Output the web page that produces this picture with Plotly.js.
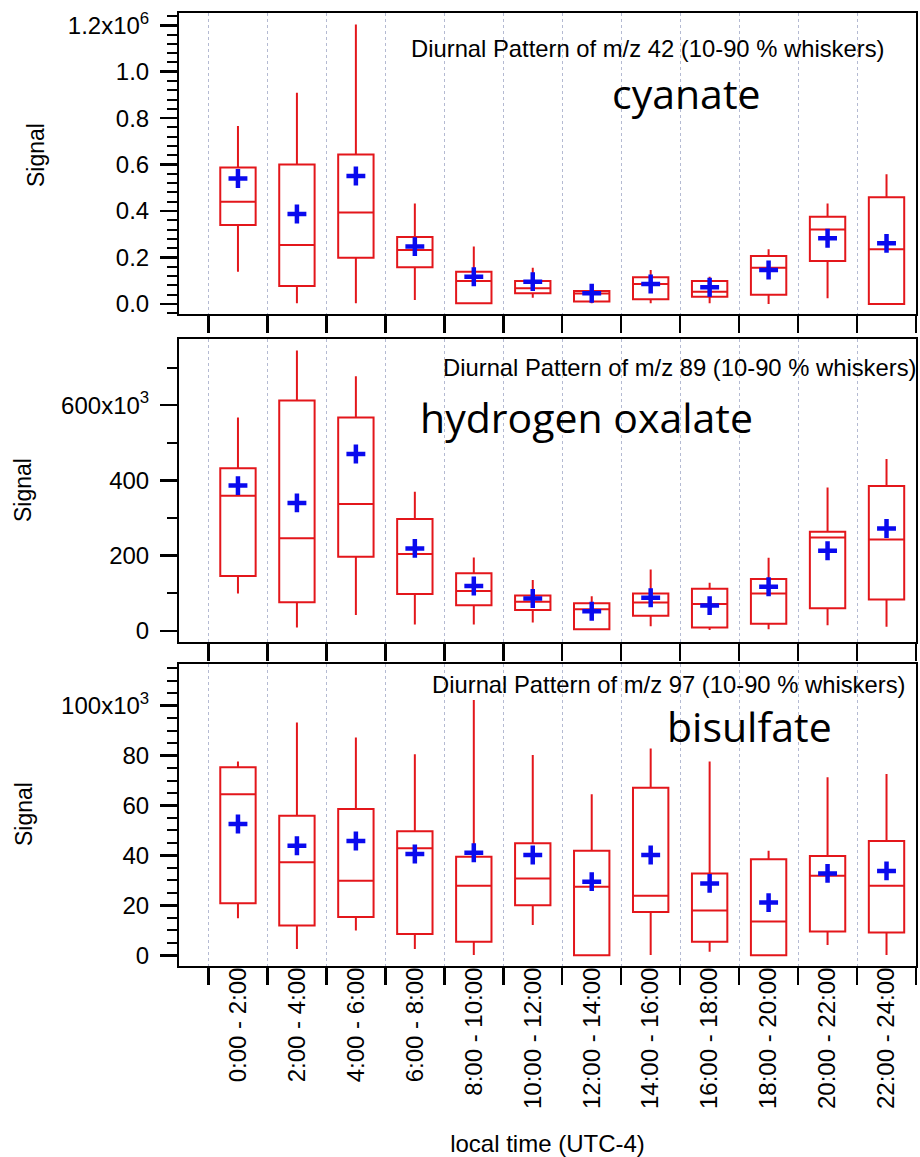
<!DOCTYPE html>
<html>
<head>
<meta charset="utf-8">
<script src="https://cdn.plot.ly/plotly-3.0.1.min.js"></script>
<style>
  html, body { margin: 0; padding: 0; background: #ffffff; }
  #chart { width: 920px; height: 1157px; }
</style>
</head>
<body>
<div id="chart"></div>
<script>
// ---------- categories / tick labels ----------
const categories = ['0:00 - 2:00', '2:00 - 4:00', '4:00 - 6:00', '6:00 - 8:00',
  '8:00 - 10:00', '10:00 - 12:00', '12:00 - 14:00', '14:00 - 16:00',
  '16:00 - 18:00', '18:00 - 20:00', '20:00 - 22:00', '22:00 - 24:00'];

// ---------- m/z 42 cyanate ----------
const cyanateUpper  = [766e3, 909e3, 1204e3, 433e3, 247e3, 156e3, 82e3, 146e3, 117e3, 235e3, 433e3, 559e3];
const cyanateQ3     = [588e3, 601e3, 644e3, 288e3, 139e3, 99e3, 56e3, 115e3, 99e3, 206e3, 376e3, 459e3];
const cyanateMedian = [440e3, 254e3, 394e3, 232e3, 99e3, 68e3, 45e3, 86e3, 53e3, 156e3, 321e3, 235e3];
const cyanateQ1     = [340e3, 77e3, 199e3, 158e3, 3e3, 46e3, 10e3, 20e3, 31e3, 40e3, 185e3, 0];
const cyanateLower  = [139e3, 3e3, 3e3, 17e3, 0, 27e3, 3e3, 3e3, 3e3, 0, 25e3, 0];
const cyanateMean   = [540e3, 387e3, 551e3, 247e3, 117e3, 96e3, 46e3, 86e3, 72e3, 146e3, 283e3, 261e3];
const cyanateTickVals = [0, 0.2e6, 0.4e6, 0.6e6, 0.8e6, 1.0e6, 1.2e6];
const cyanateTickText = ['0.0', '0.2', '0.4', '0.6', '0.8', '1.0', '1.2x10<sup>6</sup>'];

// ---------- m/z 89 hydrogen oxalate ----------
const oxalateUpper  = [567e3, 745e3, 677e3, 370e3, 195e3, 135e3, 92e3, 163e3, 128e3, 194e3, 381e3, 457e3];
const oxalateQ3     = [432e3, 612e3, 567e3, 297e3, 153e3, 94e3, 73e3, 99e3, 112e3, 138e3, 263e3, 385e3];
const oxalateMedian = [359e3, 246e3, 337e3, 204e3, 106e3, 77e3, 57e3, 75e3, 71e3, 99e3, 248e3, 243e3];
const oxalateQ1     = [146e3, 76e3, 197e3, 98e3, 68e3, 55e3, 4e3, 40e3, 9e3, 19e3, 60e3, 83e3];
const oxalateLower  = [99e3, 9e3, 42e3, 17e3, 17e3, 22e3, 2e3, 12e3, 2e3, 4e3, 15e3, 11e3];
const oxalateMean   = [386e3, 340e3, 470e3, 219e3, 119e3, 86e3, 52e3, 88e3, 67e3, 117e3, 213e3, 272e3];
const oxalateTickVals = [0, 200e3, 400e3, 600e3];
const oxalateTickText = ['0', '200', '400', '600x10<sup>3</sup>'];

// ---------- m/z 97 bisulfate ----------
const bisulfateUpper  = [77.6e3, 93.3e3, 87.3e3, 80.5e3, 102.3e3, 80.2e3, 64.5e3, 82.9e3, 77.6e3, 41.9e3, 71.3e3, 72.6e3];
const bisulfateQ3     = [75.3e3, 55.9e3, 58.6e3, 49.7e3, 39.5e3, 44.9e3, 41.9e3, 67.1e3, 32.8e3, 38.5e3, 39.8e3, 45.8e3];
const bisulfateMedian = [64.5e3, 37.3e3, 29.9e3, 42.9e3, 27.9e3, 30.8e3, 27.5e3, 23.8e3, 17.9e3, 13.5e3, 31.9e3, 27.9e3];
const bisulfateQ1     = [20.8e3, 11.9e3, 15.3e3, 8.5e3, 5.4e3, 20.0e3, 0, 17.3e3, 5.4e3, 0, 9.5e3, 9.1e3];
const bisulfateLower  = [14.8e3, 2.5e3, 9.9e3, 2.5e3, 0.1e3, 12.1e3, 0, 0.1e3, 1.4e3, 0, 4.1e3, 0.1e3];
const bisulfateMean   = [52.6e3, 43.9e3, 45.8e3, 40.6e3, 41.1e3, 40.2e3, 29.5e3, 40.2e3, 28.8e3, 21.1e3, 32.8e3, 33.8e3];
const bisulfateTickVals = [0, 20e3, 40e3, 60e3, 80e3, 100e3];
const bisulfateTickText = ['0', '20', '40', '60', '80', '100x10<sup>3</sup>'];

// ---------- text ----------
const panelTitles = ['Diurnal Pattern of m/z 42 (10-90 % whiskers)',
                     'Diurnal Pattern of m/z 89 (10-90 % whiskers)',
                     'Diurnal Pattern of m/z 97 (10-90 % whiskers)'];
const compoundNames = ['cyanate', 'hydrogen oxalate', 'bisulfate'];

// ---------- style ----------
const RED = '#e3161b';
const BLUE = '#0a0aee';
const LABEL_FONT = 'Liberation Sans, Arial, sans-serif';

function boxTrace(ax, q1, med, q3, lo, hi) {
  return {
    type: 'box', xaxis: 'x' + ax, yaxis: 'y' + ax,
    x: categories, q1: q1, median: med, q3: q3, lowerfence: lo, upperfence: hi,
    boxpoints: false, width: 0.6, whiskerwidth: 0,
    line: { color: RED, width: 2 }, fillcolor: 'rgba(0,0,0,0)',
    hoverinfo: 'skip', showlegend: false
  };
}
function meanTrace(ax, mean) {
  return {
    type: 'scatter', mode: 'markers', xaxis: 'x' + ax, yaxis: 'y' + ax,
    x: categories, y: mean,
    marker: { symbol: 'cross-thin', size: 13.5, color: BLUE, line: { color: BLUE, width: 4.5 } },
    showlegend: false, hoverinfo: 'skip'
  };
}

const data = [
  boxTrace('', cyanateQ1, cyanateMedian, cyanateQ3, cyanateLower, cyanateUpper),
  meanTrace('', cyanateMean),
  boxTrace('2', oxalateQ1, oxalateMedian, oxalateQ3, oxalateLower, oxalateUpper),
  meanTrace('2', oxalateMean),
  boxTrace('3', bisulfateQ1, bisulfateMedian, bisulfateQ3, bisulfateLower, bisulfateUpper),
  meanTrace('3', bisulfateMean)
];

function xAxis(anchor, showLabels) {
  const a = {
    type: 'category', anchor: anchor, domain: [0, 1],
    range: [-1, 11.5], tickson: 'boundaries',
    ticks: 'outside', ticklen: 17, tickwidth: 2.5, tickcolor: '#000',
    showline: true, linecolor: '#000', linewidth: 2, mirror: true,
    showgrid: true, gridcolor: '#b4bad2', griddash: 'dot', gridwidth: 1,
    zeroline: false, showticklabels: showLabels,
    tickangle: -90, tickfont: { family: LABEL_FONT, size: 24, color: '#000' }
  };
  if (anchor !== 'y3') a.matches = 'x3';
  return a;
}
function yAxis(anchor, domain, range, vals, text, minorStep) {
  return {
    anchor: anchor, domain: domain, range: range,
    tickmode: 'array', tickvals: vals, ticktext: text,
    ticks: 'outside', ticklen: 17, tickwidth: 2.5, tickcolor: '#000',
    minor: { tickmode: 'linear', tick0: 0, dtick: minorStep, ticks: 'outside',
             ticklen: 10, tickwidth: 2, tickcolor: '#000' },
    ticklabelstandoff: 6,
    tickfont: { family: LABEL_FONT, size: 24, color: '#000' },
    showline: true, linecolor: '#000', linewidth: 2, mirror: true,
    showgrid: false, zeroline: false
  };
}

// pixel -> paper helpers (plot area spans x 179..916, y 13..966)
const PL = 179, PR = 916, PT = 13, PB = 966;
const px = v => (v - PL) / (PR - PL);
const py = v => (PB - v) / (PB - PT);

const annotations = [];
const signalPos = [[36, 155], [23, 490], [24, 814]];
signalPos.forEach(p => annotations.push({
  xref: 'paper', yref: 'paper', x: px(p[0]), y: py(p[1]), xanchor: 'center', yanchor: 'middle',
  text: 'Signal', textangle: -90, showarrow: false,
  font: { family: LABEL_FONT, size: 23, color: '#000' }
}));
const titlePos = [[886, 48.7], [918, 367], [907, 685]];
titlePos.forEach((p, i) => annotations.push({
  xref: 'paper', yref: 'paper', x: px(p[0]), y: py(p[1]), xanchor: 'right', yanchor: 'middle',
  text: panelTitles[i], showarrow: false,
  font: { family: LABEL_FONT, size: 23.8, color: '#000' }
}));
const namePos = [[686, 93], [586, 417], [749, 726]];
namePos.forEach((p, i) => annotations.push({
  xref: 'paper', yref: 'paper', x: px(p[0]), y: py(p[1]), xanchor: 'center', yanchor: 'middle',
  text: compoundNames[i], showarrow: false,
  font: { family: 'Open Sans, sans-serif', size: 41, color: '#000' }
}));

const x3 = xAxis('y3', true);
x3.title = { text: 'local time (UTC-4)', standoff: 28,
             font: { family: LABEL_FONT, size: 24, color: '#000' } };
x3.ticklabelstandoff = -10;

const layout = {
  width: 920, height: 1157,
  margin: { l: PL, r: 920 - PR, t: PT, b: 1157 - PB, pad: 0 },
  paper_bgcolor: '#ffffff', plot_bgcolor: '#ffffff',
  showlegend: false,
  xaxis: xAxis('y', false),
  xaxis2: xAxis('y2', false),
  xaxis3: x3,
  yaxis: yAxis('x', [0.684, 1], [-0.044e6, 1.253e6], cyanateTickVals, cyanateTickText, 0.04e6),
  yaxis2: yAxis('x2', [0.3403, 0.6576], [-29e3, 775e3], oxalateTickVals, oxalateTickText, 100e3),
  yaxis3: yAxis('x3', [0, 0.3166], [-4.3e3, 116.6e3], bisulfateTickVals, bisulfateTickText, 5e3),
  annotations: annotations
};

Plotly.newPlot('chart', data, layout, { displayModeBar: false, staticPlot: true });
</script>
</body>
</html>
